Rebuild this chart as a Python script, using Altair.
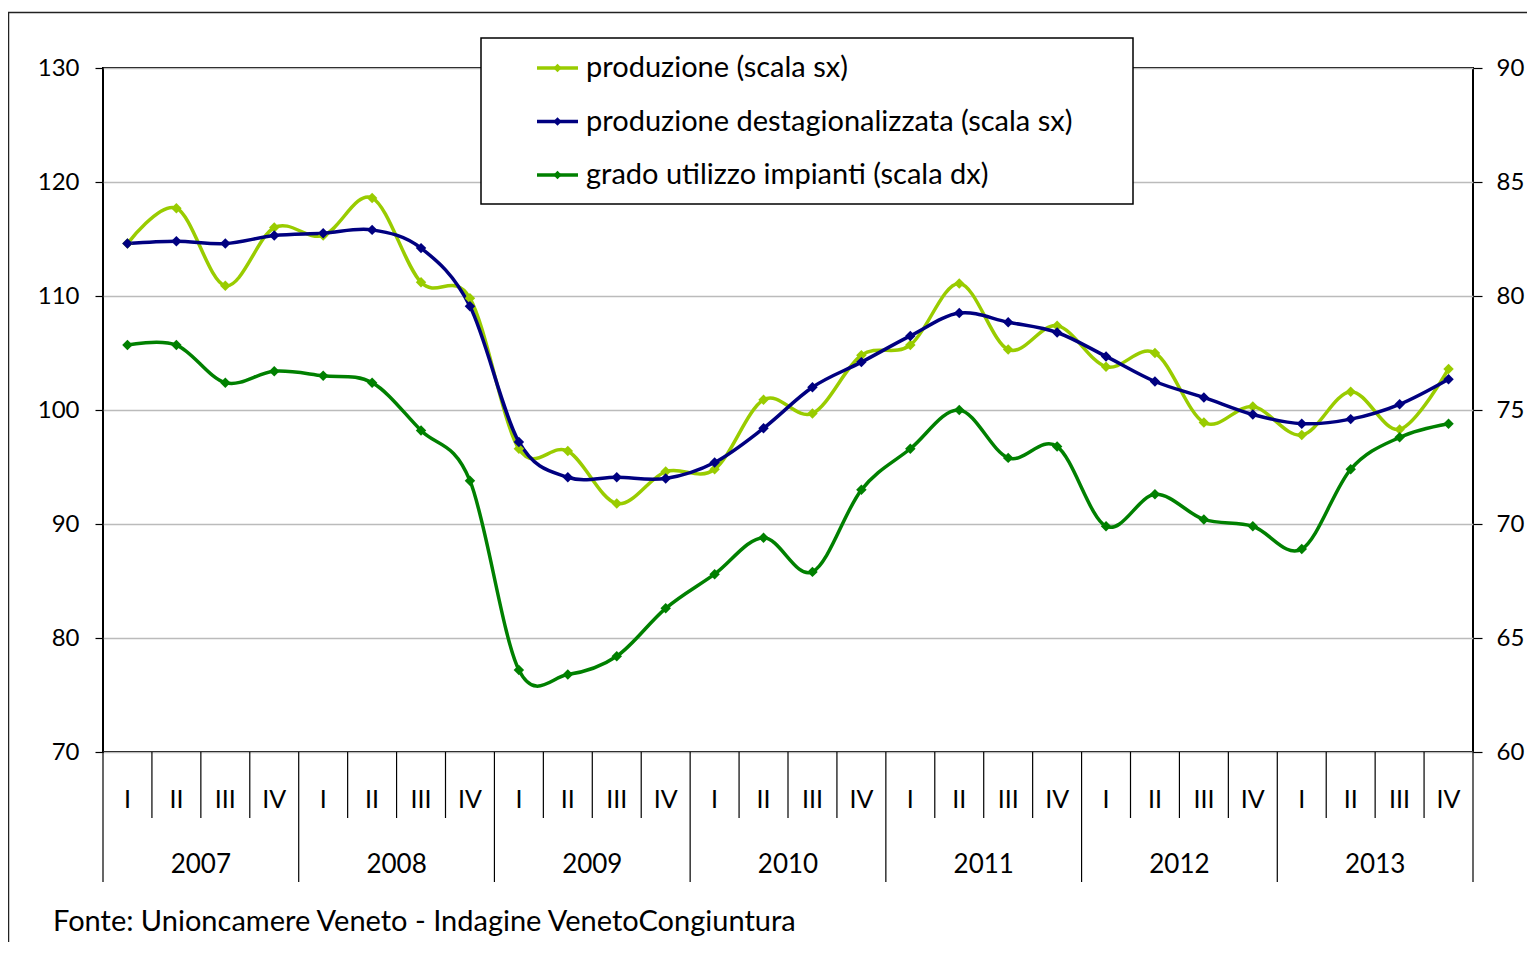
import altair as alt
import pandas as pd

years = ["2007", "2008", "2009", "2010", "2011", "2012", "2013"]
quarters = ["I", "II", "III", "IV"]
series_names = [
    "produzione (scala sx)",
    "produzione destagionalizzata (scala sx)",
    "grado utilizzo impianti (scala dx)",
]
series_colors = ["#99CC00", "#000080", "#008000"]

produzione = [114.6, 117.7, 110.9, 116.0, 115.3, 118.6, 111.2, 109.8,
              96.6, 96.4, 91.8, 94.6, 94.8, 100.9, 99.7, 104.8,
              105.7, 111.1, 105.3, 107.4, 103.8, 105.0, 98.9, 100.3,
              97.8, 101.6, 98.3, 103.6]
destag = [114.6, 114.8, 114.6, 115.3, 115.5, 115.8, 114.2, 109.1,
          97.2, 94.1, 94.1, 94.0, 95.4, 98.4, 102.0, 104.2,
          106.5, 108.5, 107.7, 106.8, 104.7, 102.5, 101.1, 99.6,
          98.8, 99.2, 100.5, 102.7]
grado = [77.85, 77.85, 76.2, 76.7, 76.5, 76.2, 74.1, 71.9,
         63.6, 63.4, 64.2, 66.3, 67.8, 69.4, 67.9, 71.5,
         73.3, 75.0, 72.9, 73.4, 69.9, 71.3, 70.2, 69.9,
         68.9, 72.4, 73.8, 74.4]

left_ticks = [70, 80, 90, 100, 110, 120, 130]
right_ticks = [60, 65, 70, 75, 80, 85, 90]
source_text = "Fonte: Unioncamere Veneto - Indagine VenetoCongiuntura"

FONT = "Lato"
W, H = 1370, 684
n = len(years) * len(quarters)

# ---- data tables ----
rows = []
for k, (name, vals) in enumerate(zip(series_names, [produzione, destag, grado])):
    for i, v in enumerate(vals):
        rows.append({"series": name, "i": i, "pos": i + 0.5, "value": v,
                     "scale": "dx" if k == 2 else "sx"})
df = pd.DataFrame(rows)

qdf = pd.DataFrame([{"q": q, "pos": yi * 4 + qi + 0.5}
                    for yi, _ in enumerate(years) for qi, q in enumerate(quarters)])
ydf = pd.DataFrame([{"year": y, "pos": yi * 4 + 2} for yi, y in enumerate(years)])
sep_q = pd.DataFrame({"b": [b for b in range(n + 1) if b % 4 != 0]})
sep_y = pd.DataFrame({"b": [b for b in range(n + 1) if b % 4 == 0]})
legdf = pd.DataFrame({"series": series_names, "row": list(range(len(series_names)))})
one = pd.DataFrame({"t": [source_text]})

xsc = alt.Scale(domain=[0, n], nice=False, zero=False)
color = alt.Color("series:N", scale=alt.Scale(domain=series_names, range=series_colors), legend=None)

frame = alt.Chart(one).mark_rect(fill="white", fillOpacity=0, stroke="#222222", strokeWidth=1.5).encode(
    x=alt.value(-94.5), x2=alt.value(1480), y=alt.value(-55.5), y2=alt.value(1000))

rq = alt.Chart(sep_q).mark_rule(color="black", strokeWidth=1.2).encode(
    x=alt.X("b:Q", scale=xsc, axis=None), y=alt.value(H), y2=alt.value(H + 66))
ry = alt.Chart(sep_y).mark_rule(color="black", strokeWidth=1.2).encode(
    x=alt.X("b:Q", scale=xsc, axis=None), y=alt.value(H), y2=alt.value(H + 130))
tq = alt.Chart(qdf).mark_text(font=FONT, fontSize=25, color="black", baseline="middle").encode(
    x=alt.X("pos:Q", scale=xsc, axis=None), y=alt.value(H + 48), text="q:N")
ty = alt.Chart(ydf).mark_text(font=FONT, fontSize=26, color="black", baseline="middle").encode(
    x=alt.X("pos:Q", scale=xsc, axis=None), y=alt.value(H + 113), text="year:N")
src = alt.Chart(one).mark_text(font=FONT, fontSize=29, color="black", align="left",
                               baseline="middle").encode(
    x=alt.value(-50), y=alt.value(H + 170), text="t:N")

left = alt.Chart(df).transform_filter(alt.datum.scale == "sx").mark_line(
    interpolate="cardinal", strokeWidth=3.5,
    point=alt.OverlayMarkDef(shape="diamond", filled=True, size=110)).encode(
    x=alt.X("pos:Q", scale=xsc, axis=None),
    y=alt.Y("value:Q", scale=alt.Scale(domain=[70, 130], nice=False, zero=False),
            axis=alt.Axis(orient="left", values=left_ticks, title=None, grid=True,
                          gridColor="#BBBBBB", gridWidth=1.5, domain=False,
                          tickColor="black", tickSize=8, tickWidth=1.2,
                          labelFont=FONT, labelFontSize=24, labelColor="black",
                          labelPadding=16)),
    color=color, detail="series:N", order="i:Q")

right = alt.Chart(df).transform_filter(alt.datum.scale == "dx").mark_line(
    interpolate="cardinal", strokeWidth=3.5,
    point=alt.OverlayMarkDef(shape="diamond", filled=True, size=110)).encode(
    x=alt.X("pos:Q", scale=xsc, axis=None),
    y=alt.Y("value:Q", scale=alt.Scale(domain=[60, 90], nice=False, zero=False),
            axis=alt.Axis(orient="right", values=right_ticks, title=None, grid=False,
                          domain=False, tickColor="black", tickSize=9, tickWidth=1.2,
                          labelFont=FONT, labelFontSize=24, labelColor="black",
                          labelPadding=14)),
    color=color, order="i:Q")

# legend
LX0, LX1, LY0, LY1 = 378, 1030, -30, 136
lbox = alt.Chart(one).mark_rect(fill="white", stroke="black", strokeWidth=1.5).encode(
    x=alt.value(LX0), x2=alt.value(LX1), y=alt.value(LY0), y2=alt.value(LY1))
rowscale = alt.Scale(domain=[0, 2], range=[0, 107])
lrule = alt.Chart(legdf).mark_rule(strokeWidth=3.5).encode(
    x=alt.value(434), x2=alt.value(475),
    y=alt.Y("row:Q", scale=rowscale, axis=None), color=color)
lpt = alt.Chart(legdf).mark_point(shape="diamond", filled=True, size=70, opacity=1).encode(
    x=alt.value(454.5), y=alt.Y("row:Q", scale=rowscale, axis=None), color=color)
ltxt = alt.Chart(legdf).mark_text(font=FONT, fontSize=29, color="black", align="left",
                                  baseline="middle").encode(
    x=alt.value(483), y=alt.Y("row:Q", scale=rowscale, axis=None), text="series:N")

chart = alt.layer(
    frame, rq, ry, tq, ty, src, left, right, lbox, lrule, lpt, ltxt
).resolve_scale(y="independent").properties(
    width=W, height=H, background="white",
    autosize=alt.AutoSizeParams(type="none"),
    padding={"left": 95, "top": 60, "right": 54, "bottom": 190},
).configure_view(stroke="black", strokeWidth=2)

chart.save("out.html", embed_options={"renderer": "svg", "actions": False})
